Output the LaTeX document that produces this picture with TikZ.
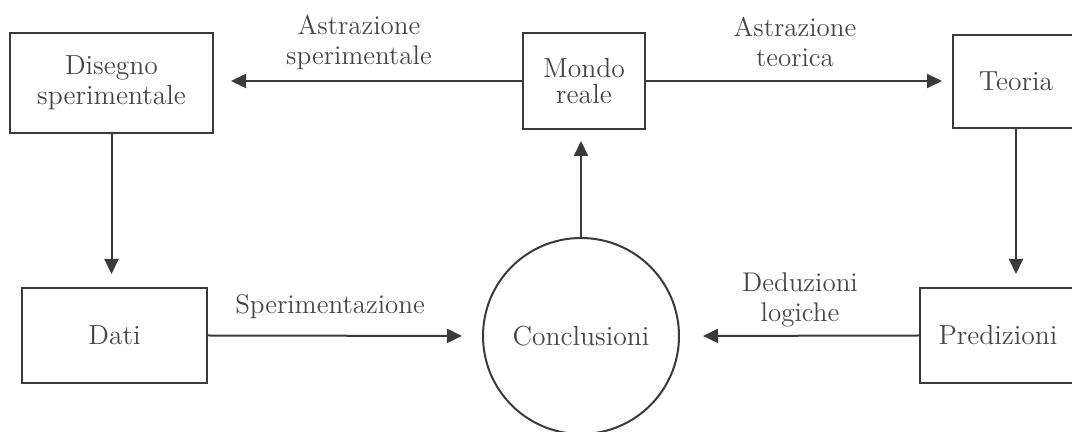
\documentclass[tikz,border=0pt]{standalone}
\usepackage{tikz}
\usetikzlibrary{calc,positioning,arrows.meta}
\usepackage{xcolor}
\definecolor{InkGray}{HTML}{3A3A3A}
\definecolor{TextGray}{HTML}{454545}

\begin{document}
\begin{tikzpicture}[x=0.5pt, y=-0.5pt,
				box/.style={draw=InkGray, line width=1pt, fill=white, inner sep=0pt,
					align=center, text=TextGray, font=\fontsize{13.8}{15}\selectfont},
				roundbox/.style={box, circle, minimum size=98pt},
				lbl/.style={align=center, text=TextGray, inner sep=0pt,
					font=\fontsize{13.5}{15}\selectfont},
				arrow/.style={-{Triangle[length=7.5pt, width=7pt]}, InkGray, line width=1pt}
				]
				\clip (0,0) rectangle (1072,432);
				\node[box, minimum width=101.5pt, minimum height=50pt] (dis) at (111.5,83) {Disegno\\sperimentale};
				\node[box, minimum width=61pt, minimum height=48pt] (mondo) at (584,81) {Mondo\\[-2pt]reale};
				\node[box, minimum width=63pt, minimum height=46.5pt] (teoria) at (1016,81.5) {Teoria};
				\node[box, minimum width=92.5pt, minimum height=47.5pt] (dati) at (114.5,335.5) {Dati};
				\node[box, minimum width=78pt, minimum height=47.5pt] (pred) at (998,335.5) {Predizioni};
				\node[roundbox] (concl) at (581,336) {Conclusioni};
				% etichette delle frecce
				\node[lbl] (l1) at (359,42) {Astrazione\\sperimentale};
				\node[lbl] (l2) at (795,42) {Astrazione\\teorica};
				\node[lbl] (l3) at (330,307) {Sperimentazione};
				\node[lbl] (l4) at (800,300) {Deduzioni\\logiche};
				\draw[arrow, shorten >=8.5pt] (mondo.west) -- (dis.east |- mondo.west);
				\draw[arrow, shorten >=5pt] (mondo.east) -- (teoria.west |- mondo.east);
				\draw[arrow, shorten >=6.5pt] (dis.south) -- (dis.south |- dati.north);
				\draw[arrow, shorten >=6.5pt] (teoria.south) -- (teoria.south |- pred.north);
				\draw[arrow, shorten >=10pt] (dati.east) -- (concl.west);
				\draw[arrow, shorten >=11.5pt] (pred.west) -- (concl.east);
				\draw[arrow, shorten >=5.5pt] (concl.north) -- (concl.north |- mondo.south);
			\end{tikzpicture}
\end{document}
